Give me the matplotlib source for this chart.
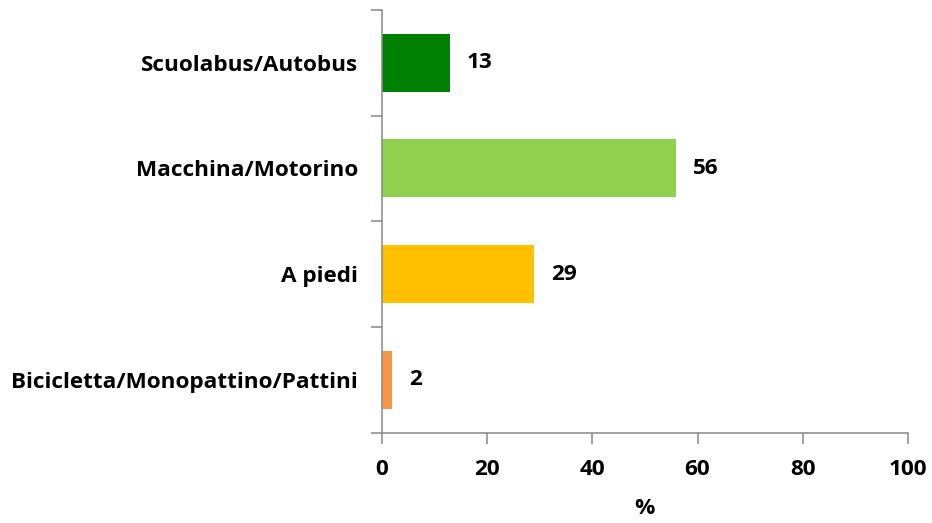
import matplotlib
matplotlib.use("Agg")
import matplotlib.pyplot as plt

# data, bottom to top
categories = ["Bicicletta/Monopattino/Pattini", "A piedi", "Macchina/Motorino", "Scuolabus/Autobus"]
values = [2, 29, 56, 13]
colors = ["#F79646", "#FFC000", "#92D050", "#008000"]
xticks = [0, 20, 40, 60, 80, 100]

plt.rcParams['font.family'] = ['Open Sans', 'DejaVu Sans']
plt.rcParams['font.weight'] = 'bold'
FS = 16.2

fig = plt.figure(figsize=(9.32, 5.23), dpi=100)
ax = fig.add_axes([0.4094, 0.173, 0.565, 0.8079])

pos = list(range(len(categories)))
ax.barh(pos, values, height=0.55, color=colors)

# value labels
for p, v in zip(pos, values):
    ax.text(v + 3.2, p, str(v), va='center', ha='left', fontsize=FS, fontweight='bold')

ax.set_xlim(0, 100)
ax.set_ylim(-0.5, len(categories) - 0.5)
ax.set_xticks(xticks)
ax.set_xticklabels([str(t) for t in xticks], fontsize=FS, fontweight='bold')

# category labels centred, tick marks at the boundaries
ax.set_yticks(pos)
ax.set_yticklabels(categories, fontsize=FS, fontweight='bold')
ax.tick_params(axis='y', length=0, pad=17)
ax.set_yticks([i - 0.5 for i in range(len(categories) + 1)], minor=True)
ax.tick_params(axis='y', which='minor', length=8, width=1.1, color='#888888', direction='out')
ax.tick_params(axis='x', length=8, width=1.1, color='#888888', direction='out', pad=11)

ax.set_xlabel('%', fontsize=FS, fontweight='bold', labelpad=13)

for s in ['top', 'right']:
    ax.spines[s].set_visible(False)
for s in ['left', 'bottom']:
    ax.spines[s].set_color('#888888')
    ax.spines[s].set_linewidth(1.1)

fig.savefig('out.png', dpi=100)
